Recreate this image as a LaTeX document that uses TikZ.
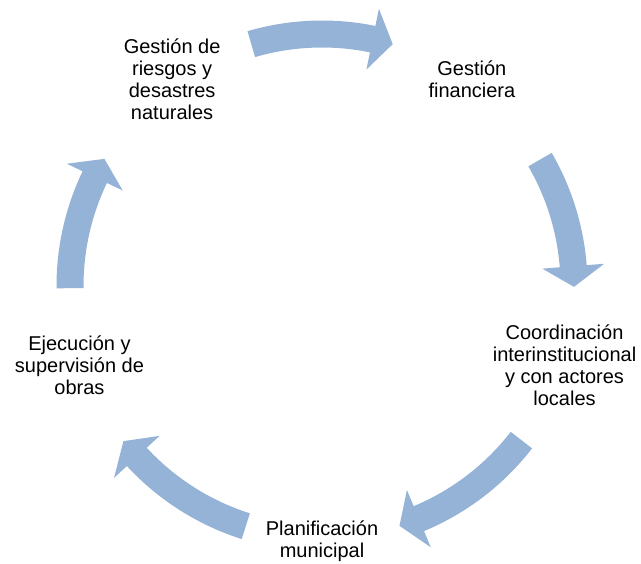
\documentclass[tikz,border=0pt]{standalone}
\usepackage{fontspec}
\setmainfont{Liberation Sans}
\definecolor{cyclearrow}{RGB}{149, 179, 215}
\usetikzlibrary{calc}

\begin{document}
\begin{tikzpicture}[x=0.75pt, y=0.75pt,
    steplabel/.style={align=center, inner sep=0pt,
                      font=\fontsize{15}{16.5}\selectfont}]
  \useasboundingbox (0,0) rectangle (641,563);
  \coordinate (hub) at (322,277);

  % stages of the cycle
  \node[steplabel] (riesgos) at ([shift={(126:255)}]hub) {Gestión de\\riesgos y\\desastres\\naturales};
  \node[steplabel] (financiera) at ([shift={(54:255)}]hub) {Gestión\\financiera};
  \node[steplabel] (coordinacion) at ([shift={(-18:255)}]hub) {Coordinación\\interinstitucional\\y con actores\\locales};
  \node[steplabel] (planificacion) at ([shift={(-90:255)}]hub) {Planificación\\municipal};
  \node[steplabel] (ejecucion) at ([shift={(198:255)}]hub) {Ejecución y\\supervisión de\\obras};

  % curved block arrows: tail angle / tip angle
  \foreach \tail/\tip in {106.3/73.7, 30.1/-0.2, -37.7/-72.1, -107.6/-142, 180.5/149.7} {
    \pgfmathsetmacro{\base}{\tip+4.7}
    \fill[cyclearrow, shift={(hub)}]
      (\tail:265.5) arc[start angle=\tail, end angle=\base, radius=265.5]
      -- (\base:283) -- (\tip:252) -- (\base:221) -- (\base:238.5)
      arc[start angle=\base, end angle=\tail, radius=238.5] -- cycle;
  }
\end{tikzpicture}
\end{document}
